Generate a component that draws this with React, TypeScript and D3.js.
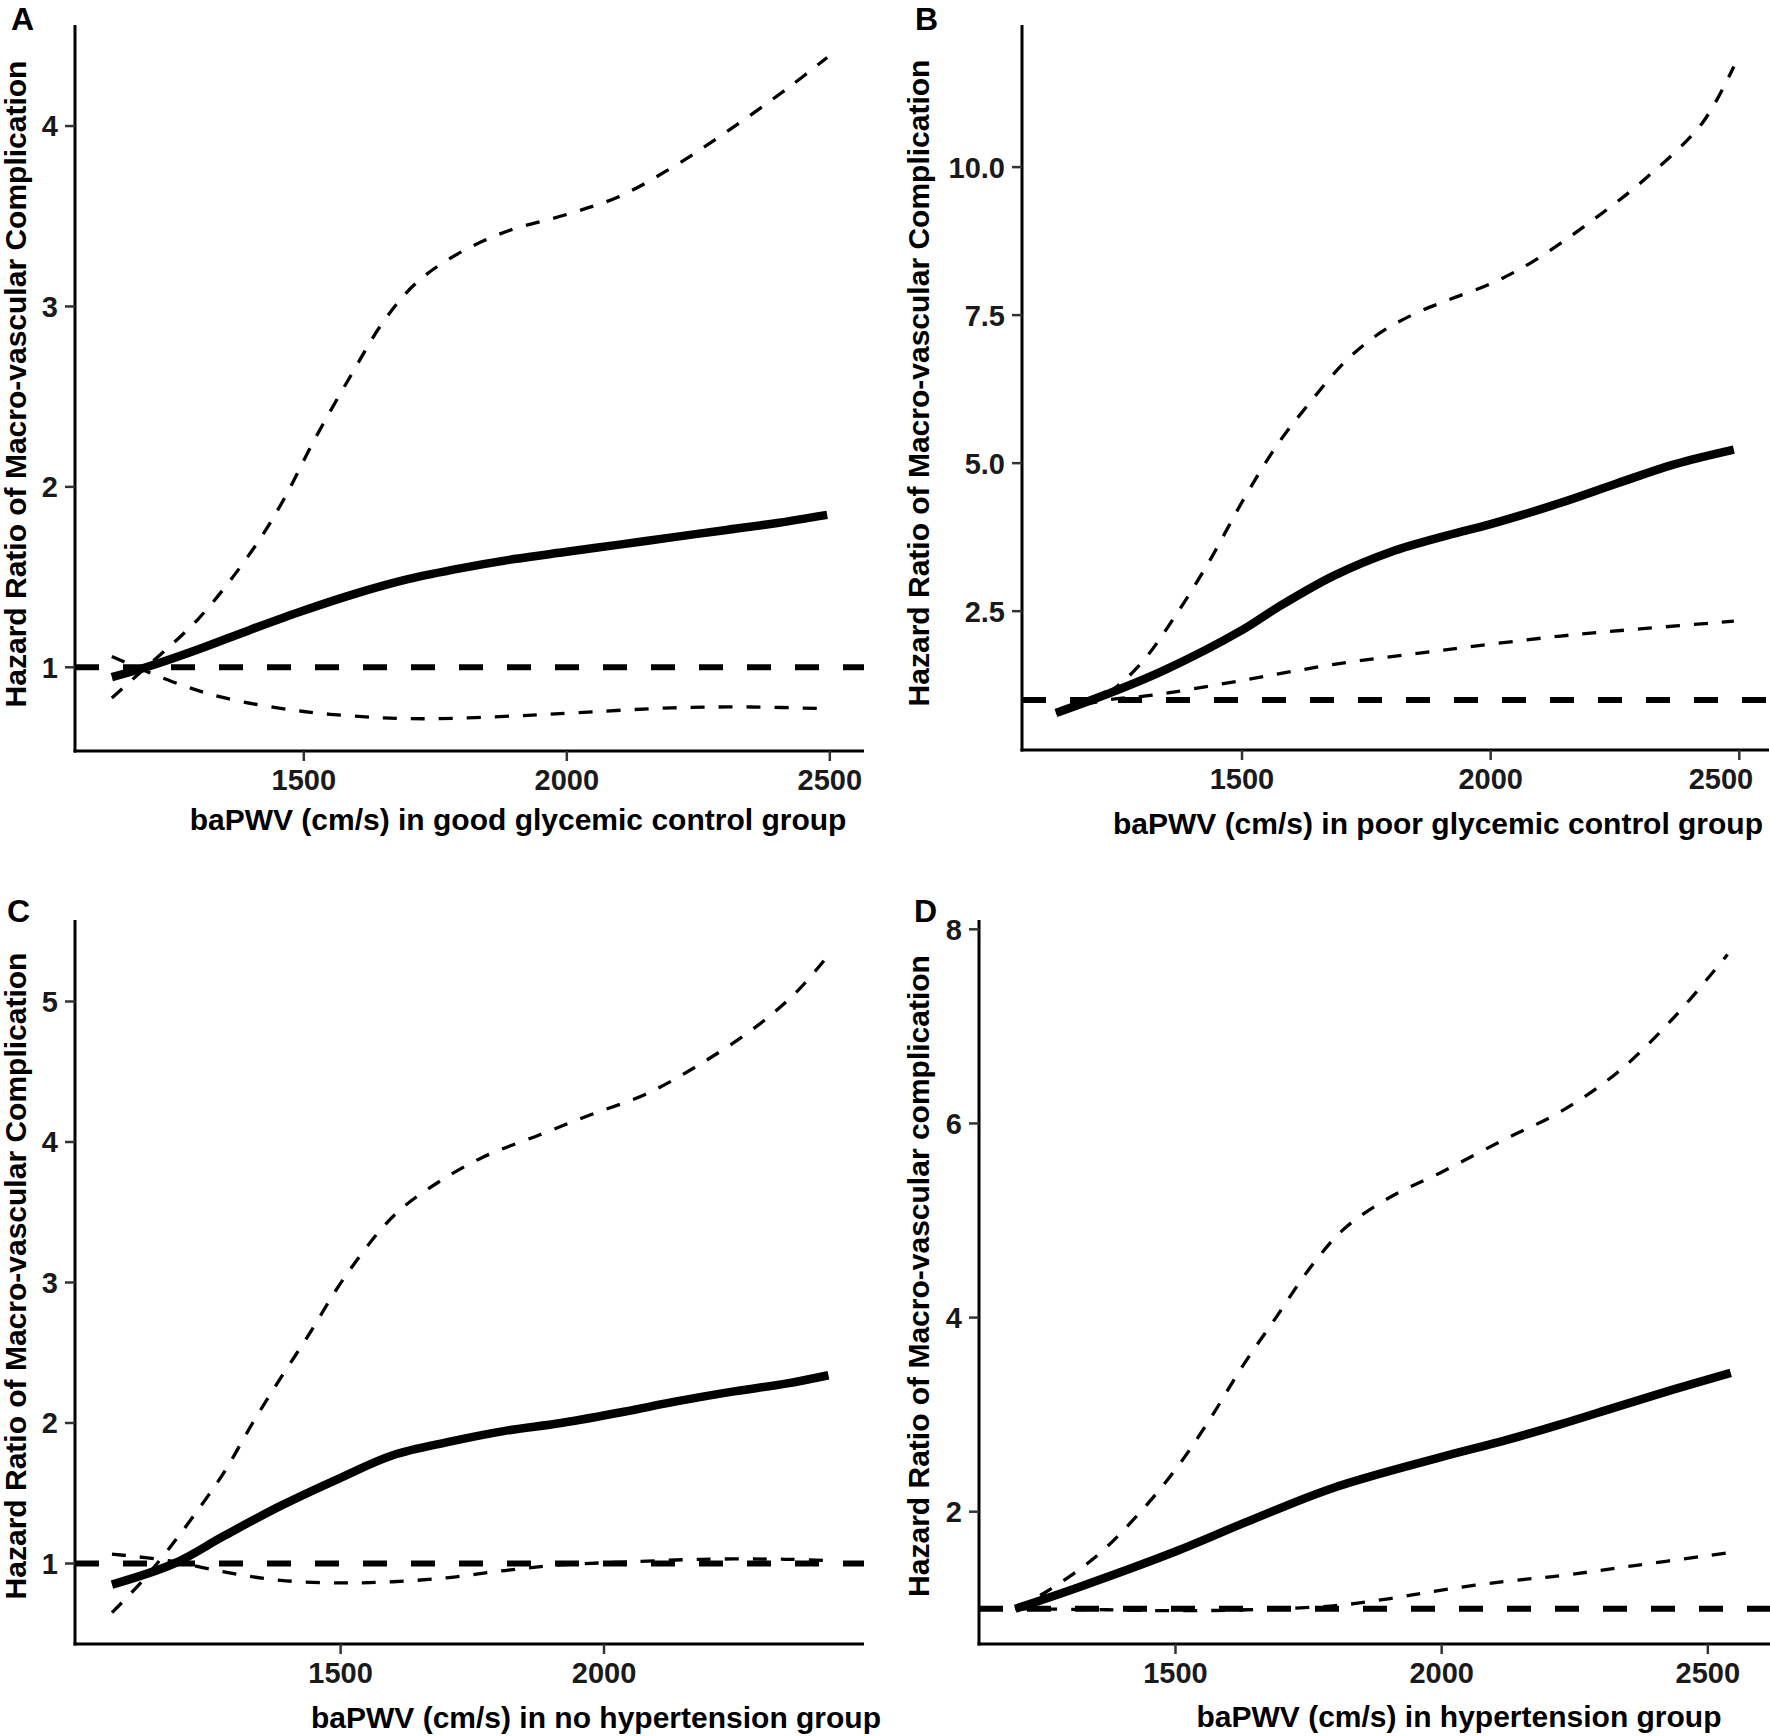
import * as d3 from "d3";

// ---- Panel A : good glycemic control ----
const aFitX = [1135, 1200, 1300, 1400, 1500, 1600, 1700, 1800, 1900, 2000, 2100, 2200, 2300, 2400, 2495];
const aFitY = [0.945, 1.0, 1.1, 1.21, 1.315, 1.41, 1.49, 1.55, 1.6, 1.64, 1.68, 1.72, 1.76, 1.8, 1.845];
const aUpX = [1135, 1200, 1300, 1400, 1460, 1520, 1590, 1650, 1710, 1780, 1880, 2000, 2100, 2200, 2300, 2420, 2495];
const aUpY = [0.83, 1.0, 1.27, 1.64, 1.92, 2.26, 2.62, 2.91, 3.12, 3.27, 3.41, 3.51, 3.61, 3.77, 3.96, 4.21, 4.38];
const aLoX = [1135, 1250, 1350, 1500, 1650, 1750, 1900, 2000, 2200, 2350, 2495];
const aLoY = [1.06, 0.92, 0.83, 0.755, 0.72, 0.715, 0.73, 0.745, 0.775, 0.78, 0.77];

// ---- Panel B : poor glycemic control ----
const bFitX = [1126, 1229, 1343, 1500, 1571, 1685, 1799, 1913, 2000, 2141, 2255, 2369, 2489];
const bFitY = [0.78, 1.1, 1.5, 2.18, 2.56, 3.1, 3.5, 3.78, 3.97, 4.33, 4.66, 4.98, 5.23];
const bUpX = [1126, 1230, 1297, 1365, 1434, 1502, 1571, 1640, 1708, 1776, 1844, 1913, 2000, 2084, 2198, 2312, 2426, 2489];
const bUpY = [0.78, 1.12, 1.62, 2.41, 3.34, 4.37, 5.31, 6.06, 6.72, 7.19, 7.51, 7.75, 8.03, 8.4, 9.06, 9.81, 10.75, 11.7];
const bLoX = [1126, 1230, 1320, 1500, 1685, 1913, 2141, 2300, 2489];
const bLoY = [0.82, 1.0, 1.08, 1.33, 1.6, 1.85, 2.08, 2.2, 2.33];

// ---- Panel C : no hypertension ----
const cFitX = [1066, 1184, 1279, 1386, 1500, 1599, 1705, 1812, 1918, 2038, 2132, 2238, 2345, 2426];
const cFitY = [0.85, 1.0, 1.197, 1.41, 1.61, 1.77, 1.865, 1.944, 2.0, 2.08, 2.15, 2.22, 2.28, 2.34];
const cUpX = [1066, 1120, 1173, 1227, 1279, 1333, 1386, 1440, 1492, 1535, 1577, 1620, 1684, 1769, 1877, 1972, 2079, 2185, 2292, 2366, 2426];
const cUpY = [0.65, 0.86, 1.1, 1.37, 1.65, 2.0, 2.32, 2.63, 2.95, 3.18, 3.38, 3.54, 3.71, 3.89, 4.05, 4.19, 4.34, 4.56, 4.83, 5.07, 5.33];
const cLoX = [1066, 1173, 1279, 1386, 1500, 1599, 1705, 1812, 1918, 2038, 2185, 2345, 2426];
const cLoY = [1.067, 1.02, 0.94, 0.88, 0.862, 0.87, 0.9, 0.95, 0.99, 1.01, 1.03, 1.03, 1.02];

// ---- Panel D : hypertension ----
const dFitX = [1199, 1317, 1500, 1636, 1796, 1997, 2116, 2223, 2329, 2436, 2543];
const dFitY = [1.0, 1.22, 1.59, 1.9, 2.245, 2.56, 2.73, 2.9, 3.08, 3.26, 3.43];
const dUpX = [1199, 1253, 1349, 1423, 1498, 1562, 1626, 1690, 1754, 1818, 1903, 1997, 2116, 2223, 2329, 2436, 2537];
const dUpY = [1.0, 1.16, 1.53, 1.93, 2.42, 2.93, 3.5, 4.01, 4.52, 4.92, 5.24, 5.49, 5.83, 6.12, 6.52, 7.09, 7.74];
const dLoX = [1199, 1370, 1500, 1636, 1796, 1903, 1997, 2116, 2223, 2329, 2543];
const dLoY = [1.0, 0.99, 0.98, 0.99, 1.03, 1.105, 1.19, 1.28, 1.34, 1.42, 1.58];

// ticks
const xTicksFull = [1500, 2000, 2500];
const xTicksC = [1500, 2000];
const yTicksA = [1, 2, 3, 4];
const yTicksB = [2.5, 5, 7.5, 10];
const yTicksC = [1, 2, 3, 4, 5];
const yTicksD = [2, 4, 6, 8];

const W = 1770;
const H = 1736;
const FONT = "'Liberation Sans', Arial, Helvetica, sans-serif";

const zip = (xs, ys) => xs.map((x, i) => [x, ys[i]]);

const panels = [
  {
    letter: "A", letterX: 11, letterY: 30,
    left: 75, right: 864, top: 25, bottom: 751,
    xDomain: [1065, 2565], yDomain: [0.536, 4.56],
    xTicks: xTicksFull, yTicks: yTicksA, yFmt: d3.format("d"),
    fit: zip(aFitX, aFitY), up: zip(aUpX, aUpY), lo: zip(aLoX, aLoY),
    xTitle: "baPWV (cm/s) in good glycemic control group", xTitleX: 518, xTitleY: 830,
    yTitle: "Hazard Ratio of Macro-vascular Complication", yTitleX: 26, yTitleY: 384,
  },
  {
    letter: "B", letterX: 915, letterY: 30,
    left: 1022, right: 1769, top: 25, bottom: 750,
    xDomain: [1057.6, 2559.7], yDomain: [0.155, 12.4],
    xTicks: xTicksFull, yTicks: yTicksB, yFmt: d3.format(".1f"),
    fit: zip(bFitX, bFitY), up: zip(bUpX, bUpY), lo: zip(bLoX, bLoY),
    xTitle: "baPWV (cm/s) in poor glycemic control group", xTitleX: 1438, xTitleY: 834,
    yTitle: "Hazard Ratio of Macro-vascular Complication", yTitleX: 929, yTitleY: 383,
  },
  {
    letter: "C", letterX: 7, letterY: 922,
    left: 75, right: 864, top: 920, bottom: 1644,
    xDomain: [995.8, 2493.5], yDomain: [0.427, 5.58],
    xTicks: xTicksC, yTicks: yTicksC, yFmt: d3.format("d"),
    fit: zip(cFitX, cFitY), up: zip(cUpX, cUpY), lo: zip(cLoX, cLoY),
    xTitle: "baPWV (cm/s)  in no hypertension group", xTitleX: 596, xTitleY: 1728,
    yTitle: "Hazard Ratio of Macro-vascular Complication", yTitleX: 26, yTitleY: 1276,
  },
  {
    letter: "D", letterX: 914, letterY: 922,
    left: 979, right: 1770, top: 920, bottom: 1644,
    xDomain: [1130.9, 2616.8], yDomain: [0.637, 8.096],
    xTicks: xTicksFull, yTicks: yTicksD, yFmt: d3.format("d"),
    fit: zip(dFitX, dFitY), up: zip(dUpX, dUpY), lo: zip(dLoX, dLoY),
    xTitle: "baPWV (cm/s) in hypertension group", xTitleX: 1459, xTitleY: 1727,
    yTitle: "Hazard Ratio of Macro-vascular complication", yTitleX: 929, yTitleY: 1276,
  },
];

function Panel({ p }) {
  const x = d3.scaleLinear().domain(p.xDomain).range([p.left, p.right]);
  const y = d3.scaleLinear().domain(p.yDomain).range([p.bottom, p.top]);
  const line = d3.line().x(d => x(d[0])).y(d => y(d[1])).curve(d3.curveCatmullRom.alpha(0.5));

  return (
    <g>
      {/* panel letter */}
      <text x={p.letterX} y={p.letterY} fontSize="32" fontWeight="bold" fontFamily={FONT} fill="#000">
        {p.letter}
      </text>

      {/* reference line HR = 1 */}
      <line x1={p.left} x2={p.right} y1={y(1)} y2={y(1)} stroke="#000" strokeWidth={6} strokeDasharray="24 24" />

      {/* confidence bands */}
      <path d={line(p.up)} fill="none" stroke="#000" strokeWidth={3.3} strokeDasharray="14 14" />
      <path d={line(p.lo)} fill="none" stroke="#000" strokeWidth={3.3} strokeDasharray="14 14" />

      {/* fitted curve */}
      <path d={line(p.fit)} fill="none" stroke="#000" strokeWidth={8.5} />

      {/* axes */}
      <line x1={p.left} x2={p.left} y1={p.top} y2={p.bottom + 1.5} stroke="#000" strokeWidth={3} />
      <line x1={p.left - 1.5} x2={p.right} y1={p.bottom} y2={p.bottom} stroke="#000" strokeWidth={3} />

      {p.yTicks.map(t => (
        <g key={"y" + t}>
          <line x1={p.left - 10} x2={p.left} y1={y(t)} y2={y(t)} stroke="#333" strokeWidth={2.5} />
          <text x={p.left - 17} y={y(t)} dy="0.36em" textAnchor="end" fontSize="29" fontWeight="bold"
            fontFamily={FONT} fill="#1a1a1a">
            {p.yFmt(t)}
          </text>
        </g>
      ))}

      {p.xTicks.map(t => (
        <g key={"x" + t}>
          <line x1={x(t)} x2={x(t)} y1={p.bottom} y2={p.bottom + 10} stroke="#333" strokeWidth={2.5} />
          <text x={Math.min(x(t), W - 49)} y={p.bottom + 39} textAnchor="middle" fontSize="29" fontWeight="bold"
            fontFamily={FONT} fill="#1a1a1a">
            {t}
          </text>
        </g>
      ))}

      {/* axis titles */}
      <text x={p.xTitleX} y={p.xTitleY} textAnchor="middle" fontSize="30" fontWeight="bold" fontFamily={FONT} fill="#000">
        {p.xTitle}
      </text>
      <text transform={`translate(${p.yTitleX},${p.yTitleY}) rotate(-90)`} textAnchor="middle" fontSize="30"
        fontWeight="bold" fontFamily={FONT} fill="#000">
        {p.yTitle}
      </text>
    </g>
  );
}

export default function App() {
  return (
    <svg width={W} height={H} style={{ position: "absolute", left: 0, top: 0, background: "#fff" }}>
      <rect width={W} height={H} fill="#fff" />
      {panels.map(p => <Panel key={p.letter} p={p} />)}
    </svg>
  );
}
